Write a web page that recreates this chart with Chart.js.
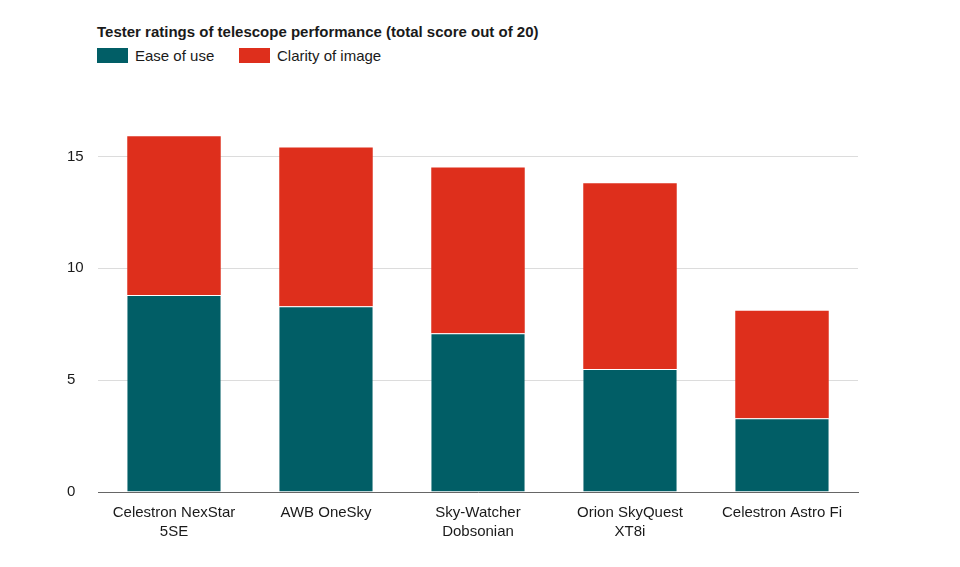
<!DOCTYPE html>
<html>
<head>
<meta charset="utf-8">
<script src="https://cdn.jsdelivr.net/npm/chart.js@4/dist/chart.umd.min.js"></script>
<style>
  html, body { margin: 0; padding: 0; background: #fff; }
  body { width: 960px; height: 567px; position: relative; overflow: hidden;
         font-family: "Liberation Sans", Arial, sans-serif; color: #1a1a1a; }
  #title { position: absolute; left: 97px; top: 23px; font-size: 15px; font-weight: bold; line-height: 17px; }
  #legend { position: absolute; left: 97px; top: 47px; font-size: 15px; line-height: 17px; display: flex; }
  .item { display: flex; align-items: center; }
  .swatch { width: 31px; height: 15px; margin-right: 7px; }
  #chart { position: absolute; left: 0; top: 0; }
</style>
</head>
<body>
<div id="title">Tester ratings of telescope performance (total score out of 20)</div>
<div id="legend"></div>
<canvas id="chart" width="960" height="567"></canvas>
<script>
// datos
const categories = [
  ['Celestron NexStar', '5SE'],
  'AWB OneSky',
  ['Sky-Watcher', 'Dobsonian'],
  ['Orion SkyQuest', 'XT8i'],
  'Celestron Astro Fi'
];
const seriesNames = ['Ease of use', 'Clarity of image'];
const easeOfUse = [8.8, 8.3, 7.1, 5.5, 3.3];
const clarityOfImage = [7.1, 7.1, 7.4, 8.3, 4.8];
const yTicks = [0, 5, 10, 15];

const colors = ['#015e66', '#de2f1c'];

// leyenda en HTML
const legendEl = document.getElementById('legend');
seriesNames.forEach(function(name, i) {
  const item = document.createElement('div');
  item.className = 'item';
  item.style.width = i === 0 ? '142px' : 'auto';
  item.innerHTML = '<span class="swatch" style="background:' + colors[i] + '"></span><span>' + name + '</span>';
  legendEl.appendChild(item);
});

const fontFamily = '"Liberation Sans", Arial, sans-serif';
const ctx = document.getElementById('chart').getContext('2d');
new Chart(ctx, {
  type: 'bar',
  data: {
    labels: categories,
    datasets: [
      { label: seriesNames[0], data: easeOfUse, backgroundColor: colors[0],
        borderColor: '#ffffff', borderWidth: { top: 1 }, borderSkipped: false },
      { label: seriesNames[1], data: clarityOfImage, backgroundColor: colors[1], borderWidth: 0 }
    ]
  },
  options: {
    responsive: false,
    animation: false,
    layout: { padding: { left: 67, right: 102, top: 134, bottom: 0 } },
    datasets: { bar: { categoryPercentage: 1, barPercentage: 0.615 } },
    plugins: { legend: { display: false }, title: { display: false }, tooltip: { enabled: false } },
    scales: {
      x: {
        stacked: true,
        grid: { display: false, drawTicks: false },
        border: { display: true, color: '#666', width: 1 },
        ticks: { color: '#1a1a1a', padding: 11, maxRotation: 0, autoSkip: false,
                 font: { family: fontFamily, size: 15, lineHeight: 1.3 } },
        afterFit: function(scale) { scale.height = 75; }
      },
      y: {
        stacked: true,
        min: 0,
        max: 16,
        grid: { color: '#dcdcdc', drawTicks: false },
        border: { display: false },
        ticks: { stepSize: 5, color: '#1a1a1a', crossAlign: 'far',
                 font: { family: fontFamily, size: 15 } },
        afterBuildTicks: function(scale) {
          scale.ticks = yTicks.map(function(v) { return { value: v }; });
        },
        afterFit: function(scale) { scale.width = 31; }
      }
    }
  }
});
</script>
</body>
</html>
